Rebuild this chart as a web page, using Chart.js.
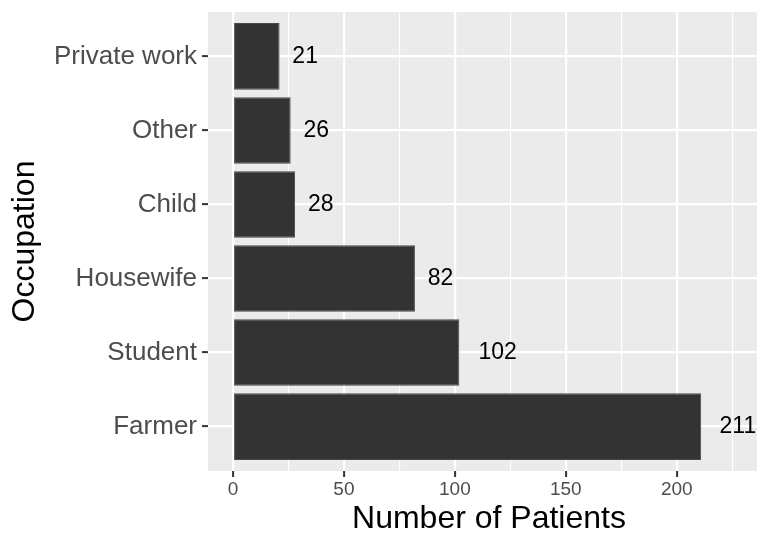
<!DOCTYPE html>
<html>
<head>
<meta charset="utf-8">
<script src="https://cdn.jsdelivr.net/npm/chart.js@4.4.1/dist/chart.umd.min.js"></script>
<style>
  html, body { margin: 0; padding: 0; background: #ffffff; overflow: hidden; }
  /* the original plot is cut off at its right edge, so the canvas is wider than the view */
  #wrap { width: 757px; height: 534px; position: relative; overflow: hidden; }
  #inner { width: 770px; height: 534px; position: relative; }
</style>
</head>
<body>
<div id="wrap"><div id="inner"><canvas id="chart"></canvas></div></div>
<script>
// top to bottom, as in the picture
const occupations = ["Private work", "Other", "Child", "Housewife", "Student", "Farmer"]
const patients = [21, 26, 28, 82, 102, 211]
const xTicks = [0, 25, 50, 75, 100, 125, 150, 175, 200, 225]
const xRange = [-11.25, 242]

const FONT = '"Liberation Sans", Arial, Helvetica, sans-serif'

const panelBackground = {
  id: "panelBackground",
  beforeDraw(chart) {
    const { ctx, chartArea: a } = chart
    ctx.save()
    ctx.fillStyle = "#EBEBEB"
    ctx.fillRect(a.left, a.top, a.right - a.left, a.bottom - a.top)
    ctx.restore()
  },
}

const barLabels = {
  id: "barLabels",
  afterDatasetsDraw(chart) {
    const { ctx } = chart
    const meta = chart.getDatasetMeta(0)
    ctx.save()
    ctx.font = "23px " + FONT
    ctx.fillStyle = "#000000"
    ctx.textAlign = "left"
    ctx.textBaseline = "middle"
    meta.data.forEach((bar, i) => {
      const text = String(patients[i])
      const w = ctx.measureText(text).width
      // hjust = -0.5
      ctx.fillText(text, bar.x + w * 0.5, bar.y)
    })
    ctx.restore()
  },
}

const isMajor = v => v % 50 === 0
const noPad = scale => {
  scale.paddingTop = 0
  scale.paddingBottom = 0
  scale.paddingLeft = 0
  scale.paddingRight = 0
}

new Chart(document.getElementById("chart"), {
  type: "bar",
  data: {
    datasets: [
      {
        data: patients.map((v, i) => ({ x: v, y: i + 1 })),
        backgroundColor: "#333333",
        borderColor: "#4a4a4a",
        borderWidth: 1,
        borderSkipped: false,
        categoryPercentage: 1,
        barPercentage: 0.9,
      },
    ],
  },
  options: {
    indexAxis: "y",
    responsive: true,
    maintainAspectRatio: false,
    animation: false,
    layout: { padding: { top: 12, right: 0, bottom: 0, left: 0 } },
    plugins: {
      legend: { display: false },
      tooltip: { enabled: false },
    },
    scales: {
      x: {
        type: "linear",
        min: xRange[0],
        max: xRange[1],
        afterBuildTicks: scale => { scale.ticks = xTicks.map(v => ({ value: v })) },
        afterFit: scale => { scale.height = 63; noPad(scale) },
        border: { display: false },
        grid: {
          color: "#FFFFFF",
          lineWidth: ctx => (isMajor(ctx.tick.value) ? 2.2 : 1.1),
          tickColor: ctx => (isMajor(ctx.tick.value) ? "#333333" : "rgba(0,0,0,0)"),
          tickWidth: 2,
          tickLength: 6,
        },
        ticks: {
          autoSkip: false,
          maxRotation: 0,
          padding: 1,
          color: "#4D4D4D",
          font: { family: FONT, size: 19, lineHeight: 1.2 },
          callback: v => (isMajor(v) ? String(v) : ""),
        },
        title: {
          display: true,
          text: "Number of Patients",
          color: "#000000",
          font: { family: FONT, size: 32, lineHeight: 0.9 },
          padding: { top: 0, bottom: 0 },
        },
      },
      y: {
        type: "linear",
        reverse: true,
        offset: false,
        min: 0.4,
        max: occupations.length + 0.6,
        afterBuildTicks: scale => { scale.ticks = occupations.map((_, i) => ({ value: i + 1 })) },
        afterFit: scale => { scale.width = 208; noPad(scale) },
        border: { display: false },
        grid: {
          offset: false,
          color: "#FFFFFF",
          lineWidth: 2.2,
          tickColor: "#333333",
          tickWidth: 2,
          tickLength: 6,
        },
        ticks: {
          autoSkip: false,
          padding: 5,
          color: "#4D4D4D",
          font: { family: FONT, size: 26 },
          callback: v => occupations[v - 1] || "",
        },
        title: {
          display: true,
          text: "Occupation",
          color: "#000000",
          font: { family: FONT, size: 32, lineHeight: 0.9 },
          padding: { top: 11, bottom: 0 },
        },
      },
    },
  },
  plugins: [panelBackground, barLabels],
})
</script>
</body>
</html>
